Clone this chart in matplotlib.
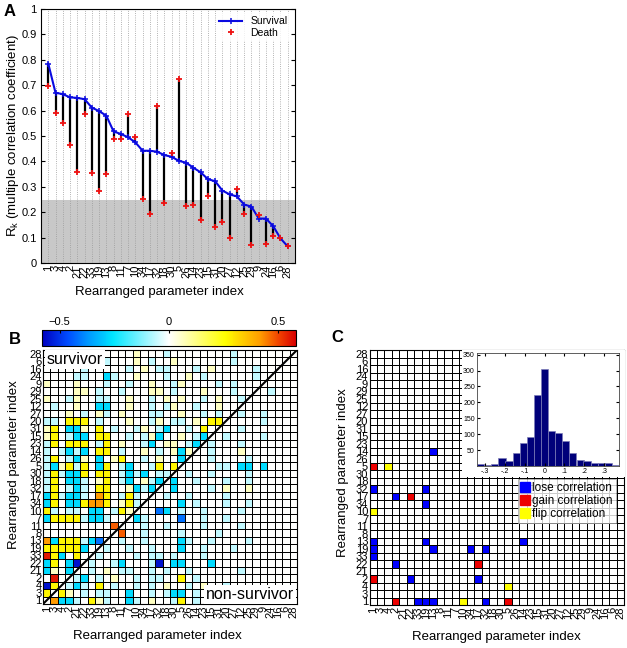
import numpy as np
import matplotlib
matplotlib.use("Agg")
import matplotlib.pyplot as plt
from matplotlib.colors import LinearSegmentedColormap, ListedColormap
from matplotlib.lines import Line2D
from matplotlib.patches import Rectangle

plt.rcParams['font.family'] = ['Liberation Sans', 'DejaVu Sans']

# rearranged parameter order (left->right, bottom->top)
order = [1, 3, 4, 2, 21, 22, 33, 19, 13, 8, 11, 7, 10, 34, 17, 32, 18, 30, 5,
         26, 14, 23, 15, 31, 20, 27, 12, 25, 29, 9, 24, 16, 6, 28]

# panel A: multiple correlation coefficient
survival = [0.785, 0.670, 0.665, 0.652, 0.650, 0.645, 0.612, 0.598, 0.580, 0.518,
            0.508, 0.495, 0.475, 0.442, 0.442, 0.438, 0.425, 0.418, 0.402, 0.395,
            0.375, 0.357, 0.330, 0.322, 0.285, 0.270, 0.262, 0.230, 0.222, 0.175,
            0.175, 0.145, 0.097, 0.065]
death = [0.697, 0.590, 0.552, 0.466, 0.357, 0.585, 0.354, 0.282, 0.350, 0.487,
         0.488, 0.587, 0.497, 0.253, 0.192, 0.617, 0.237, 0.433, 0.725, 0.226,
         0.230, 0.170, 0.265, 0.140, 0.160, 0.100, 0.290, 0.192, 0.070, 0.188,
         0.075, 0.105, 0.100, 0.065]

# panel B: correlation matrix, rows from top (28) to bottom (1), one code per cell
# upper-left of the diagonal = survivor, lower-right = non-survivor
corr_rows = [
    "....c.......y...c........c.......",   # 28
    "....cc..c...y.c..y.......c.......",   # 6
    ".....c.....c.y.cc...c.y.....c....",   # 16
    "....cc..Cc..y...c..y.c......c....",   # 24
    "y...y...c..c..y..cy....c.c.......",   # 9
    "....yy.c..c...yy.c...y...c....c..",   # 29
    "y..cy..cc..y..c.y.y..c.y..c......",   # 25
    ".c..y..CC..y..c.cy..c..y..c......",   # 12
    "...y.c.yc.y...cc..y..c.c..c..c...",   # 27
    "cc.YYY.c...y..cy.cc.y.YY.....c...",   # 20
    "yY.CCy.Y.c..cy.cC..c.Y.c..c......",   # 31
    "yY.cCC.YY..c.cyC..y.cC..c....c...",   # 15
    "cY.YYY.cY.y..cC.yy.cC.c...c......",   # 23
    "c.cCcC.YY.c..y.c.yCy..c...y......",   # 14
    "cY.cCy.C.yY..c.y..Cy..c....c.....",   # 26
    "cCyYcY.CY.cC..cY.Yy....cc.CC.C...",   # 5
    "cYcCCY.YY.cCcC.cc..c..c....c.....",   # 30
    "cY.CCc.yY.cC.ycC.C..c...c..c.....",   # 18
    "cY.cCc.YY..yCcC..C....c.y..y.....",   # 32
    "CYcCCc.OY.cYc...c..c....c........",   # 17
    "CY.CCYOOY.yYc.....C.c...c..c.....",   # 34
    "Yc.cc.CC.cYy...bC.c..c....c......",   # 10
    "CYYYYcCCc...Cc....b..c..c........",   # 7
    ".........r...c..c....c....c......",   # 11
    "..........r..c....c....c.........",   # 8
    "OCYYYcCb..c..c....Cc..c....c.....",   # 13
    "YYYYYC..c..c..c...C..c...c.......",   # 19
    "RYC.Y..c....c.cc.c...c...........",   # 33
    "CY.CB.c..cC...cB.CC...C..........",   # 22
    "Cy.C..c.y.cc..c.c..c......c......",   # 21
    ".R..cC.c.y..c.cc..Y.c............",   # 2
    "BY.cCc.Y.c..c.c.y..c.y..c........",   # 4
    "Y.Yy.c.cc..C..c.cCC.c............",   # 3
    ".OCCc.Yyc..Cc.y..cY.c............",   # 1
]
code_val = {'B': -0.55, 'b': -0.42, 'C': -0.27, 'c': -0.06, '.': 0.0,
            'y': 0.06, 'Y': 0.27, 'O': 0.42, 'r': 0.48, 'R': 0.55}

# panel C: parameter pairs whose correlation changes
lose_pairs = [(1, 13), (1, 19), (1, 33), (1, 32), (2, 22), (2, 17),
              (13, 19), (19, 34), (19, 32), (13, 14)]
gain_pairs = [(1, 2), (1, 5), (22, 17)]
flip_pairs = [(1, 10), (4, 5)]

# inset histogram
hist_centers = [-0.321, -0.286, -0.250, -0.214, -0.179, -0.143, -0.107, -0.071,
                -0.036, 0.0, 0.036, 0.071, 0.107, 0.143, 0.179, 0.214, 0.250,
                0.286, 0.321, 0.357]
hist_counts = [5, 2, 5, 25, 17, 42, 72, 90, 222, 305, 110, 105, 78, 40, 18, 15,
               10, 8, 8, 3]

W, H = 627, 648
fig = plt.figure(figsize=(W / 100, H / 100), dpi=100)

def box(l, t, w, h):
    return [l / W, 1 - (t + h) / H, w / W, h / H]

n = len(order)
ticks = np.arange(n) + 0.5
labels = [str(p) for p in order]

# ---------------- A ----------------
axA = fig.add_axes(box(41, 9, 254, 254))
x = np.arange(1, n + 1)
axA.axhspan(0, 0.25, color='#c8c8c8', lw=0, zorder=0)
for xi in x:
    axA.axvline(xi, color='#9a9a9a', ls=':', lw=0.6, zorder=1)
axA.vlines(x, death, survival, color='k', lw=1.6, zorder=2)
axA.plot(x, survival, color='#0a0ae0', lw=1.5, marker='+', ms=5, mew=1.1,
         label='Survival', zorder=3)
axA.plot(x, death, ls='none', marker='+', color='#ee1111', ms=4, mew=1.3,
         label='Death', zorder=4)
axA.set_xlim(0, 35)
axA.set_ylim(0, 1)
axA.set_xticks(x)
axA.set_xticklabels(labels, rotation=90, fontsize=8)
axA.set_yticks(np.arange(0, 1.01, 0.1))
axA.set_yticklabels(['0'] + ['%.1f' % v for v in np.arange(0.1, 0.95, 0.1)] + ['1'],
                    fontsize=8)
axA.tick_params(axis='x', length=0, pad=1.5)
axA.tick_params(axis='y', direction='in', length=3, right=True, pad=3)
axA.set_xlabel('Rearranged parameter index', fontsize=9.5)
axA.xaxis.set_label_coords(0.468, -0.09)
axA.set_ylabel(r'R$_\mathregular{k}$ (multiple correlation coefficient)', fontsize=9.5)
axA.yaxis.set_label_coords(-0.077, 0.5)
leg = axA.legend(loc='upper right', fontsize=7.5, frameon=True, fancybox=False,
                 handlelength=2.2, borderpad=0.3, labelspacing=0.15,
                 borderaxespad=0.4)
leg.get_frame().set_edgecolor('none')
fig.text(10 / W, 1 - 12 / H, 'A', fontsize=12, fontweight='bold', ha='center', va='center')

# ---------------- B ----------------
cmap = LinearSegmentedColormap.from_list('bwy', [
    (0.00, (0.0, 0.0, 0.75)), (0.10, (0.0, 0.30, 1.0)), (0.18, (0.0, 0.60, 1.0)),
    (0.28, (0.0, 0.90, 1.0)), (0.50, (1.0, 1.0, 1.0)), (0.72, (1.0, 1.0, 0.0)),
    (0.86, (1.0, 0.62, 0.0)), (0.93, (0.95, 0.28, 0.0)), (1.00, (0.85, 0.0, 0.0))])
vals = np.array([[code_val[ch] for ch in r.ljust(n, '.')[:n]] for r in corr_rows])
for t in range(n):
    vals[t, n - 1 - t] = 0.0
vals = vals[::-1]   # row 0 -> bottom (parameter 1)

axB = fig.add_axes(box(43, 350, 254, 254))
mesh = axB.pcolormesh(np.arange(n + 1), np.arange(n + 1), vals, cmap=cmap,
                      vmin=-0.58, vmax=0.58, edgecolors='k', linewidth=0.6)
axB.plot([0, n], [0, n], color='k', lw=1.5)
axB.set_xlim(0, n)
axB.set_ylim(0, n)
axB.text(0.5, 33.7, 'survivor', fontsize=11.5, ha='left', va='top',
         bbox=dict(facecolor='white', edgecolor='none', pad=1.5))
axB.text(33.6, 0.3, 'non-survivor', fontsize=11.5, ha='right', va='bottom',
         bbox=dict(facecolor='white', edgecolor='none', pad=1.5))
axB.set_xticks(ticks)
axB.set_xticklabels(labels, rotation=90, fontsize=8)
axB.set_yticks(ticks)
axB.set_yticklabels(labels, fontsize=8)
axB.tick_params(length=0, pad=1)
axB.set_xlabel('Rearranged parameter index', fontsize=9.5)
axB.xaxis.set_label_coords(0.45, -0.102)
axB.set_ylabel('Rearranged parameter index', fontsize=9.5)
axB.yaxis.set_label_coords(-0.0925, 0.547)

cax = fig.add_axes(box(42, 330, 254, 16))
cb = fig.colorbar(mesh, cax=cax, orientation='horizontal', ticks=[-0.5, 0, 0.5])
cax.xaxis.set_ticks_position('top')
cax.set_xticklabels(['\u22120.5', '0', '0.5'], fontsize=8)
cax.tick_params(length=2, direction='in', pad=2)
cb.outline.set_linewidth(0.8)
fig.text(15 / W, 1 - 340 / H, 'B', fontsize=12, fontweight='bold', ha='center', va='center')

# ---------------- C ----------------
idx = {p: k for k, p in enumerate(order)}
change = np.zeros((n, n))
for code, pairs in ((1, lose_pairs), (2, gain_pairs), (3, flip_pairs)):
    for a, b in pairs:
        change[idx[a], idx[b]] = code
        change[idx[b], idx[a]] = code
ccmap = ListedColormap(['white', '#0000ff', '#ee0000', '#ffff00'])

axC = fig.add_axes(box(369.5, 350, 254.5, 255))
axC.pcolormesh(np.arange(n + 1), np.arange(n + 1), change, cmap=ccmap,
               vmin=-0.5, vmax=3.5, edgecolors='k', linewidth=0.6)
axC.set_xlim(0, n)
axC.set_ylim(0, n)
axC.set_xticks(ticks)
axC.set_xticklabels(labels, rotation=90, fontsize=8)
axC.set_yticks(ticks)
axC.set_yticklabels(labels, fontsize=8)
axC.tick_params(length=0, pad=1)
axC.set_xlabel('Rearranged parameter index', fontsize=9.5)
axC.xaxis.set_label_coords(0.5, -0.102)
axC.set_ylabel('Rearranged parameter index', fontsize=9.5)
axC.yaxis.set_label_coords(-0.079, 0.52)
axC.add_patch(Rectangle((462 / W, 1 - 477 / H), 163 / W, 127 / H,
                        transform=fig.transFigure, facecolor='white',
                        edgecolor='none', clip_on=False, zorder=10))
fig.text(337 / W, 1 - 337 / H, 'C', fontsize=12, fontweight='bold', ha='center', va='center')

axI = fig.add_axes(box(477, 353, 142, 113))
axI.bar(hist_centers, hist_counts, width=0.0357, color='#00007a',
        edgecolor='#7d7db8', linewidth=0.5)
axI.set_xlim(-0.34, 0.375)
axI.set_ylim(0, 355)
axI.set_xticks([-0.3, -0.2, -0.1, 0, 0.1, 0.2, 0.3])
axI.set_xticklabels(['-.3', '-.2', '-.1', '0', '.1', '.2', '.3'], fontsize=5)
axI.set_yticks([50, 100, 150, 200, 250, 300, 350])
axI.set_yticklabels(['50', '100', '150', '200', '250', '300', '350'], fontsize=5)
axI.tick_params(direction='in', length=2, pad=1.5, top=True, right=True)
for s in axI.spines.values():
    s.set_linewidth(0.6)
    s.set_color('#444444')

handles = [Line2D([], [], ls='none', marker='s', ms=7, color=c)
           for c in ('#0000ff', '#ee0000', '#ffff00')]
lg = fig.legend(handles, ['lose correlation', 'gain correlation', 'flip correlation'],
                loc='upper left', bbox_to_anchor=(518 / W, 1 - 479 / H),
                bbox_transform=fig.transFigure, fontsize=8.5, frameon=True,
                fancybox=False, handlelength=0.7, handletextpad=0.25,
                borderpad=0.25, labelspacing=0.1, borderaxespad=0)
lg.get_frame().set_edgecolor('#999999')
lg.get_frame().set_linewidth(0.6)

fig.savefig('out.png', dpi=100)
